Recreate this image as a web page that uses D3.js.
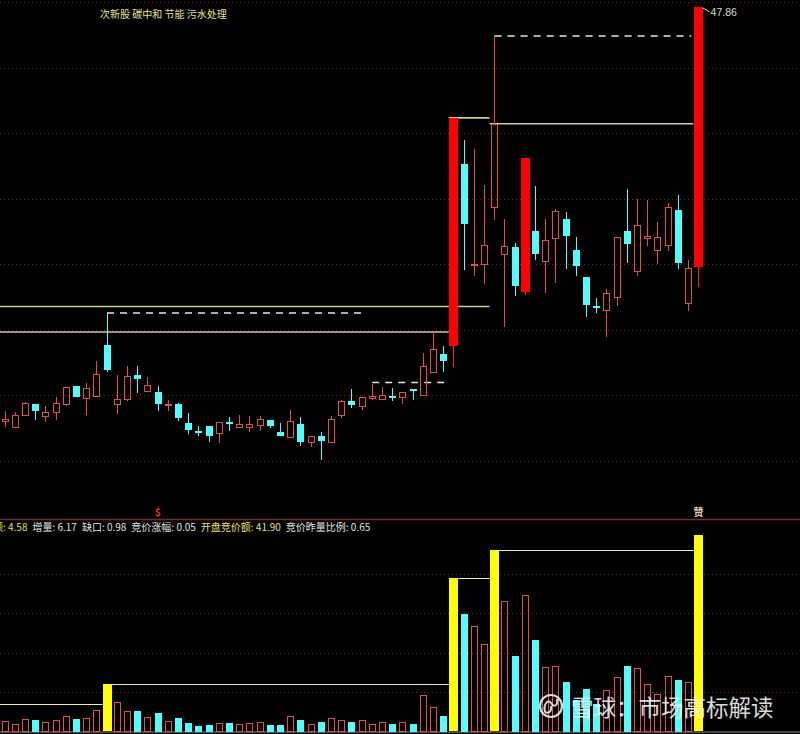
<!DOCTYPE html>
<html><head><meta charset="utf-8">
<script src="https://cdn.jsdelivr.net/npm/d3@7/dist/d3.min.js"></script>
<style>html,body{margin:0;padding:0;background:#000;overflow:hidden}svg{display:block}</style>
</head><body>
<svg id="c" width="800" height="734"></svg>
<script>
// ---------- DATA ----------
const title = "次新股 碳中和 节能 污水处理";
const opens  = [35.20,35.04,35.41,35.74,35.35,35.48,35.74,36.27,35.90,35.99,37.52,35.72,35.88,36.62,36.14,36.11,35.69,35.74,35.15,34.91,35.07,34.86,35.18,35.04,35.04,35.08,35.23,34.89,34.72,35.13,34.56,34.76,34.56,35.40,35.81,35.66,35.91,35.88,35.98,35.94,36.19,36.01,36.71,37.26,37.49,43.07,39.99,40.00,41.74,40.31,40.54,39.14,41.03,40.10,40.80,41.39,40.42,39.61,38.72,38.59,39.01,41.02,39.78,40.79,40.42,40.58,41.66,38.81,39.91];
const highs  = [35.52,35.50,35.78,35.74,35.66,35.94,36.25,36.28,36.37,37.05,38.51,36.62,36.88,36.90,36.57,36.27,35.84,35.76,35.47,35.07,35.07,35.17,35.32,35.40,35.35,35.37,35.25,35.15,35.56,35.33,34.76,34.89,35.35,35.84,36.20,35.94,36.35,36.25,36.22,36.11,36.19,37.30,37.92,37.49,44.47,43.78,43.52,42.43,46.97,41.39,40.64,43.25,42.39,41.39,41.69,41.59,40.82,39.61,38.97,39.25,40.83,42.30,41.99,41.97,41.29,41.88,42.11,40.13,47.86];
const lows   = [35.04,35.04,35.41,35.25,35.17,35.25,35.68,35.94,35.40,35.99,36.72,35.43,35.81,36.06,36.14,35.53,35.53,35.21,34.82,34.74,34.56,34.54,34.92,35.04,34.89,34.92,35.00,34.74,34.72,34.46,34.43,34.03,34.56,35.30,35.61,35.56,35.84,35.88,35.81,35.74,35.86,36.01,36.71,36.72,36.86,39.81,39.63,39.39,41.34,38.07,39.04,39.07,40.13,39.12,39.42,39.85,39.63,38.40,38.51,37.78,38.71,40.05,39.65,40.56,40.01,40.39,39.85,38.58,39.30];
const closes = [35.26,35.40,35.76,35.53,35.49,35.76,36.25,35.96,36.22,36.65,36.78,35.89,36.59,36.51,36.32,35.74,35.72,35.31,34.94,34.88,34.74,35.17,35.15,35.12,35.13,35.27,35.07,34.74,35.20,34.56,34.76,34.59,35.27,35.81,35.69,35.94,35.99,36.00,35.90,36.11,36.17,36.88,37.42,37.06,44.47,41.23,40.02,40.60,44.29,40.56,39.34,43.25,40.32,40.75,41.63,40.85,39.96,38.74,38.69,39.12,40.83,40.61,41.19,40.87,40.83,41.74,40.03,39.88,47.86];
const volumes = [0.51,0.36,0.61,0.57,0.49,0.57,0.81,0.61,0.66,1.10,2.39,1.51,1.05,1.05,0.75,0.96,0.51,0.70,0.41,0.27,0.32,0.41,0.41,0.36,0.41,0.47,0.32,0.35,0.80,0.60,0.40,0.50,0.70,0.60,0.50,0.60,0.40,0.50,0.40,0.50,0.40,1.83,1.25,0.78,7.80,5.97,5.37,4.43,9.19,6.60,3.81,6.94,4.65,3.25,3.34,2.49,1.62,2.18,1.42,2.13,2.79,3.34,3.20,2.40,1.88,2.83,2.62,2.49,9.95];
const solidRedIdx = [44, 51, 68];       // filled red candles
const yellowVolIdx = [10, 44, 48, 68];  // highlighted volume bars
const priceTicks = [34, 36, 38, 40, 42, 44, 46, 48];
const volTicks = [2, 4, 6, 8];
// price level lines: [price, fromIdx, toIdx]
const levelLines = [[38.71, -1, 47], [37.93, -1, 43], [44.47, 44, 47], [44.29, 48, 67]];
const dashLines  = [[38.51, 10, 35], [36.39, 36, 43], [46.97, 48, 67]];
// volume level lines: [volume, fromIdx, toIdx]
const volLines = [[1.42, -1, 9], [2.39, 10, 43], [7.80, 44, 47], [9.19, 48, 67]];
const highLabel = "47.86";
const markers = [{i: 15, t: "$"}, {i: 68, t: "赞"}];
const infoLabels = ["额", "增量", "缺口", "竞价涨幅", "开盘竞价额", "竞价昨量比例"];
const infoValues = ["4.58", "6.17", "0.98", "0.05", "41.90", "0.65"];
const infoYellow = [true, false, false, false, true, false];
const watermark = "雪球：市场高标解读";

// ---------- SCALES ----------
const svg = d3.select("#c");
const W = 800;
const N = opens.length;
const x = d3.scaleBand().domain(d3.range(N)).range([-0.1, 703.7]);
const bw = x.bandwidth();
const cx = i => x(i) + bw / 2;
const y = d3.scaleLinear().domain([32.25, 48.07]).range([518, 0]);
const yv = d3.scaleLinear().domain([0, 10]).range([731.5, 534.5]);
const edgeL = i => i < 0 ? 0 : x(i);
const edgeR = i => x(i) + bw;

const RED = "#e05050", CYAN = "#54fcfc", GRID = "#7a2626";

svg.append("rect").attr("width", W).attr("height", 734).attr("fill", "#000");

// grid
svg.append("g").selectAll("line").data(priceTicks).join("line")
  .attr("x1", 0).attr("x2", W)
  .attr("y1", d => Math.round(y(d)) + 0.5).attr("y2", d => Math.round(y(d)) + 0.5)
  .attr("stroke", GRID).attr("stroke-dasharray", "1,3");
svg.append("g").selectAll("line").data(volTicks).join("line")
  .attr("x1", 0).attr("x2", W)
  .attr("y1", d => Math.round(yv(d)) + 0.5).attr("y2", d => Math.round(yv(d)) + 0.5)
  .attr("stroke", GRID).attr("stroke-dasharray", "1,3");

// separator
svg.append("line").attr("x1", 0).attr("x2", W).attr("y1", 519.5).attr("y2", 519.5)
  .attr("stroke", "#7a2a2a").attr("stroke-width", 1.5);
svg.append("line").attr("x1", 0).attr("x2", W).attr("y1", 732).attr("y2", 732)
  .attr("stroke", "#8a8a8a").attr("stroke-width", 1);

// level lines
const gl = svg.append("g");
levelLines.forEach(([p, a, b]) => {
  gl.append("line").attr("x1", edgeL(a)).attr("x2", edgeR(b))
    .attr("y1", y(p)).attr("y2", y(p))
    .attr("stroke", "#d2ca8c").attr("stroke-width", 1.6);
});
dashLines.forEach(([p, a, b]) => {
  gl.append("line").attr("x1", cx(a)).attr("x2", cx(b) + 3)
    .attr("y1", y(p)).attr("y2", y(p))
    .attr("stroke", "#e6e6e6").attr("stroke-width", 1.5).attr("stroke-dasharray", "7,6");
});

// candles
const gc = svg.append("g").attr("shape-rendering", "crispEdges");
d3.range(N).forEach(i => {
  const o = opens[i], c = closes[i], h = highs[i], l = lows[i];
  const c0 = cx(i);
  const top = Math.round(y(Math.max(o, c))), bot = Math.round(y(Math.min(o, c)));
  const yh = Math.round(y(h)), yl = Math.round(y(l));
  if (solidRedIdx.includes(i)) {
    const xl = Math.round(c0 - 4.5);
    gc.append("line").attr("x1", xl + 4.5).attr("x2", xl + 4.5).attr("y1", yh).attr("y2", yl)
      .attr("stroke", "#ff2020");
    gc.append("rect").attr("x", xl).attr("y", top).attr("width", 9).attr("height", Math.max(1, bot - top))
      .attr("fill", "#ff0000");
    return;
  }
  const xl = Math.round(c0 - 3.5);
  const wx = xl + 3.5;
  if (c >= o) {
    gc.append("line").attr("x1", wx).attr("x2", wx).attr("y1", yh).attr("y2", top).attr("stroke", RED);
    gc.append("line").attr("x1", wx).attr("x2", wx).attr("y1", bot).attr("y2", yl).attr("stroke", RED);
    if (bot - top <= 1) {
      gc.append("line").attr("x1", xl).attr("x2", xl + 7).attr("y1", top + 0.5).attr("y2", top + 0.5)
        .attr("stroke", RED).attr("stroke-width", 2);
    } else {
      gc.append("rect").attr("x", xl + 0.5).attr("y", top + 0.5).attr("width", 6).attr("height", bot - top)
        .attr("fill", "none").attr("stroke", RED);
    }
  } else {
    gc.append("line").attr("x1", wx).attr("x2", wx).attr("y1", yh).attr("y2", yl).attr("stroke", CYAN);
    gc.append("rect").attr("x", xl).attr("y", top).attr("width", 7).attr("height", Math.max(2, bot - top))
      .attr("fill", CYAN);
  }
});

// high label
const hx = cx(N - 1);
svg.append("line").attr("x1", hx + 4).attr("y1", y(highs[N - 1]) + 1).attr("x2", hx + 11).attr("y2", y(highs[N - 1]) + 5)
  .attr("stroke", "#d8d8d8");
svg.append("text").attr("x", hx + 12).attr("y", y(highs[N - 1]) + 9)
  .attr("font-family", "Liberation Sans, Arial, sans-serif").attr("font-size", 10.5).attr("fill", "#d8d8d8")
  .text(highLabel);

// title
svg.append("text").attr("x", 100).attr("y", 18)
  .attr("font-family", "Noto Sans CJK SC").attr("font-size", 10).attr("fill", "#e8e08a")
  .text(title);

// markers
markers.forEach(m => {
  svg.append("text").attr("x", cx(m.i)).attr("y", 516).attr("text-anchor", "middle")
    .attr("font-family", "Noto Sans CJK SC").attr("font-size", m.t === "$" ? 10 : 10)
    .attr("font-weight", "bold")
    .attr("fill", m.t === "$" ? "#e83030" : "#ead2b2").text(m.t);
});

// info row
let tx = -7;
const infoG = svg.append("g").attr("font-family", "Noto Sans CJK SC").attr("font-size", 10);
infoLabels.forEach((lab, k) => {
  const t = infoG.append("text").attr("x", tx).attr("y", 531)
    .attr("fill", infoYellow[k] ? "#e6e060" : "#e4e4e4")
    .text(lab + ": " + infoValues[k]);
  tx += t.node().getComputedTextLength() + 5;
});

// volume level lines
volLines.forEach(([v, a, b]) => {
  svg.append("line").attr("x1", a < 0 ? 0 : cx(a) + 4.5).attr("x2", cx(b + 1) - 4.5)
    .attr("y1", Math.round(yv(v)) + 0.5).attr("y2", Math.round(yv(v)) + 0.5)
    .attr("stroke", "#f0f0a0").attr("stroke-width", 1.2);
});

// volume bars
const gv = svg.append("g").attr("shape-rendering", "crispEdges");
d3.range(N).forEach(i => {
  const c0 = cx(i);
  const top = Math.round(yv(volumes[i])), base = 731;
  if (yellowVolIdx.includes(i)) {
    const xl = Math.round(c0 - 4.5);
    gv.append("rect").attr("x", xl).attr("y", top).attr("width", 9).attr("height", base - top).attr("fill", "#ffff00");
    return;
  }
  const xl = Math.round(c0 - 3.5);
  if (closes[i] >= opens[i]) {
    gv.append("rect").attr("x", xl + 0.5).attr("y", top + 0.5).attr("width", 6).attr("height", base - top)
      .attr("fill", "none").attr("stroke", RED);
  } else {
    gv.append("rect").attr("x", xl).attr("y", top).attr("width", 7).attr("height", base - top + 1).attr("fill", CYAN);
  }
});

// watermark
const wm = svg.append("g").attr("opacity", 0.85);
wm.append("circle").attr("cx", 551).attr("cy", 706).attr("r", 11)
  .attr("fill", "none").attr("stroke", "#fff").attr("stroke-width", 2.2);
wm.append("path").attr("d", "M545,712 C543,704 548,699 551,703 C554,708 558,706 557,699 M545,712 C549,714 552,711 551,706")
  .attr("fill", "none").attr("stroke", "#fff").attr("stroke-width", 2);
wm.append("text").attr("x", 571).attr("y", 716)
  .attr("font-family", "Noto Sans CJK SC").attr("font-size", 22.5).attr("fill", "#fff")
  .text(watermark);
</script>
</body></html>
